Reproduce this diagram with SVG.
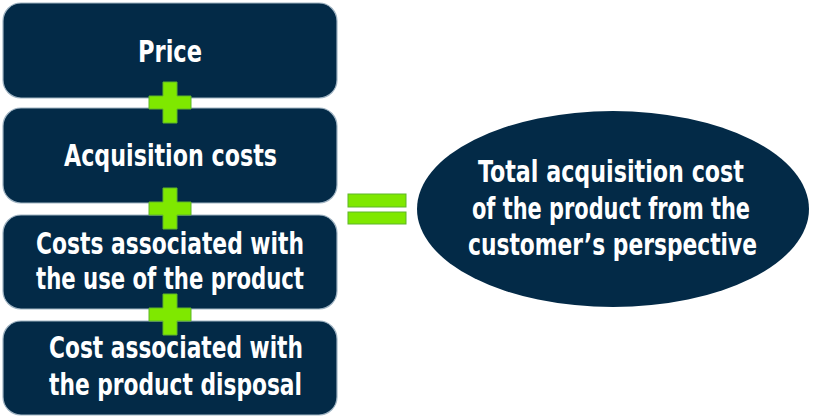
<svg xmlns="http://www.w3.org/2000/svg" width="813" height="419" viewBox="0 0 813 419">
<style>
.box{fill:#032a47;stroke:#9fb3c2;stroke-width:1.2}
.t{fill:#ffffff;font-family:"DejaVu Sans Condensed","DejaVu Sans","Liberation Sans",sans-serif;font-weight:bold;font-stretch:condensed;font-size:31px;text-anchor:middle}
.op{fill:#7fe800;stroke:#5fb52a;stroke-width:1}
</style>
<rect width="813" height="419" fill="#ffffff"/>
<g id="node-price">
<rect class="box" x="3" y="3" width="334" height="95" rx="18"/>
<text class="t" x="170" y="62" textLength="64" lengthAdjust="spacingAndGlyphs">Price</text>
</g>
<g id="node-acquisition">
<rect class="box" x="3" y="108" width="334" height="95" rx="18"/>
<text class="t" x="170.5" y="166" textLength="213" lengthAdjust="spacingAndGlyphs">Acquisition costs</text>
</g>
<g id="node-use">
<rect class="box" x="3" y="215" width="334" height="94" rx="18"/>
<text class="t" x="170" y="254" textLength="268" lengthAdjust="spacingAndGlyphs">Costs associated with</text>
<text class="t" x="170" y="289" textLength="268" lengthAdjust="spacingAndGlyphs">the use of the product</text>
</g>
<g id="node-disposal">
<rect class="box" x="3" y="321" width="334" height="94" rx="18"/>
<text class="t" x="176" y="358" textLength="254" lengthAdjust="spacingAndGlyphs">Cost associated with</text>
<text class="t" x="175.5" y="395" textLength="253" lengthAdjust="spacingAndGlyphs">the product disposal</text>
</g>
<g id="node-total">
<ellipse cx="613" cy="209" rx="196" ry="98" fill="#032a47"/>
<text class="t" x="611" y="182" textLength="266" lengthAdjust="spacingAndGlyphs">Total acquisition cost</text>
<text class="t" x="611" y="219" textLength="278" lengthAdjust="spacingAndGlyphs">of the product from the</text>
<text class="t" x="612.5" y="255" textLength="289" lengthAdjust="spacingAndGlyphs">customer’s perspective</text>
</g>
<g id="connectors">
<path class="op" d="M163,82 H177 V96 H191 V109 H177 V123 H163 V109 H149 V96 H163 Z"/>
<path class="op" d="M163,188 H177 V202 H191 V215 H177 V229 H163 V215 H149 V202 H163 Z"/>
<path class="op" d="M163,294 H177 V308 H191 V321 H177 V335 H163 V321 H149 V308 H163 Z"/>
<rect class="op" x="348" y="194" width="58" height="13"/>
<rect class="op" x="348" y="212" width="58" height="12"/>
</g>
</svg>
